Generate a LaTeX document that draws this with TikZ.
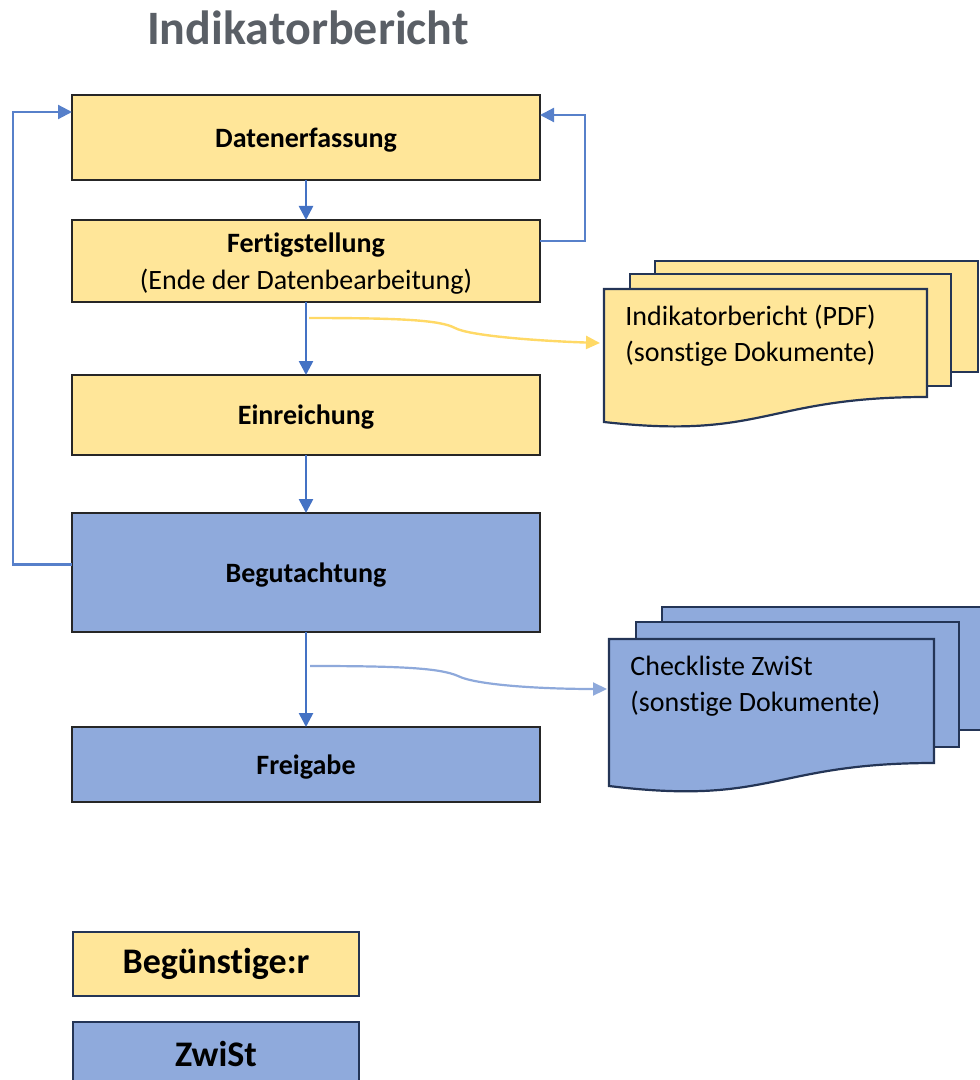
\documentclass[tikz,border=0pt]{standalone}
\usepackage{fontspec}
\setmainfont{Carlito}[Ligatures=NoCommon]
\usetikzlibrary{arrows.meta,positioning}
\definecolor{gelb}{HTML}{FFE699}
\definecolor{blau}{HTML}{8FAADC}
\definecolor{pfeil}{HTML}{4472C4}
\definecolor{rand}{HTML}{243556}
\definecolor{titel}{HTML}{5A5F66}
\definecolor{gelblinie}{HTML}{FFD966}
\definecolor{blaulinie}{HTML}{8EA9DB}
\tikzset{
  blk/.style={draw=black!85,line width=1pt,rectangle,minimum width=234pt,inner sep=0pt,outer sep=0pt,text depth=-2pt,align=center,font=\fontsize{14}{18.5}\selectfont},
  benblk/.style={blk,fill=gelb},
  zwiblk/.style={blk,fill=blau},
  legblk/.style={draw=rand,line width=1pt,rectangle,outer sep=0pt,minimum width=143pt,minimum height=32pt,font=\fontsize{18}{22}\selectfont\bfseries},
  arr/.style={-{Triangle[length=7pt,width=7pt]},pfeil,line width=1.3pt},
  fb/.style={-{Triangle[length=7pt,width=7pt]},pfeil!90,line width=1.1pt},
  garr/.style={-{Triangle[length=7pt,width=6.5pt]},gelblinie,line width=1.2pt},
  barr/.style={-{Triangle[length=7pt,width=6.5pt]},blaulinie,line width=1.1pt},
  docpage/.style={draw=rand,line width=1.1pt},
  doctext/.style={font=\fontsize{14}{18}\selectfont,align=left,anchor=west,inner xsep=10.5pt,inner ysep=0pt}
}

\begin{document}
\begin{tikzpicture}[x=0.5pt,y=-0.5pt]
  \useasboundingbox (0,0) rectangle (979,1080);
  \node[font=\fontsize{24}{29}\selectfont\bfseries,text=titel] (title) at (308,28) {Indikatorbericht};

  \node[benblk,minimum height=42.5pt] (dat) at (306,137.5) {\textbf{Datenerfassung}};
  \node[benblk,minimum height=41pt,below=20pt of dat] (fert) {\textbf{Fertigstellung}\\(Ende der Datenbearbeitung)};
  \node[benblk,minimum height=40pt,below=36.5pt of fert] (ein) {\textbf{Einreichung}};
  \node[zwiblk,minimum height=59.5pt,below=29pt of ein] (beg) {\textbf{Begutachtung}};
  \node[zwiblk,minimum height=37.5pt,below=47.5pt of beg] (frei) {\textbf{Freigabe}};

  \filldraw[docpage,fill=gelb] (655,261) rectangle (978,372);
  \filldraw[docpage,fill=gelb] (630,274) rectangle (951,386);
  \filldraw[docpage,fill=gelb] (604,289) -- (927,289) -- (927,397) .. controls (765,397) and (765,440) .. (604,422) -- cycle;
  \node[doctext] (pdf) at (604,336) {Indikatorbericht (PDF)\\(sonstige Dokumente)};

  \filldraw[docpage,fill=blau] (662,607) rectangle (995,730);
  \filldraw[docpage,fill=blau] (636,622) rectangle (959,747);
  \filldraw[docpage,fill=blau] (609,639) -- (934,639) -- (934,763) .. controls (772,763) and (772,806) .. (609,786) -- cycle;
  \node[doctext] (check) at (609,686) {Checkliste ZwiSt\\(sonstige Dokumente)};

  \draw[arr] (dat) -- (fert);
  \draw[arr] (fert) -- (ein);
  \draw[arr] (ein) -- (beg);
  \draw[arr] (beg) -- (frei);
  \draw[fb] ([yshift=-10.5pt]fert.north east) -- ++(45,0) |- ([yshift=-10pt]dat.north east);
  \draw[fb] ([yshift=4pt]beg.west) -- ++(-59,0) |- ([yshift=-8.5pt]dat.north west);
  \draw[garr] ([xshift=1.5pt,yshift=-8pt]fert.south) .. controls (400,318) and (440,320) .. (455,328) .. controls (470,336) and (540,341) .. ([xshift=-2pt,yshift=-3.5pt]pdf.west);
  \draw[barr] ([xshift=2pt,yshift=-17pt]beg.south) .. controls (400,666) and (440,668) .. (458,676) .. controls (476,685) and (540,689) .. ([xshift=-1pt,yshift=-1.5pt]check.west);

  \node[legblk,fill=gelb] (ben) at (216,964) {Begünstige:r};
  \node[legblk,fill=blau,below=13pt of ben] (zwi) {ZwiSt};
\end{tikzpicture}
\end{document}
